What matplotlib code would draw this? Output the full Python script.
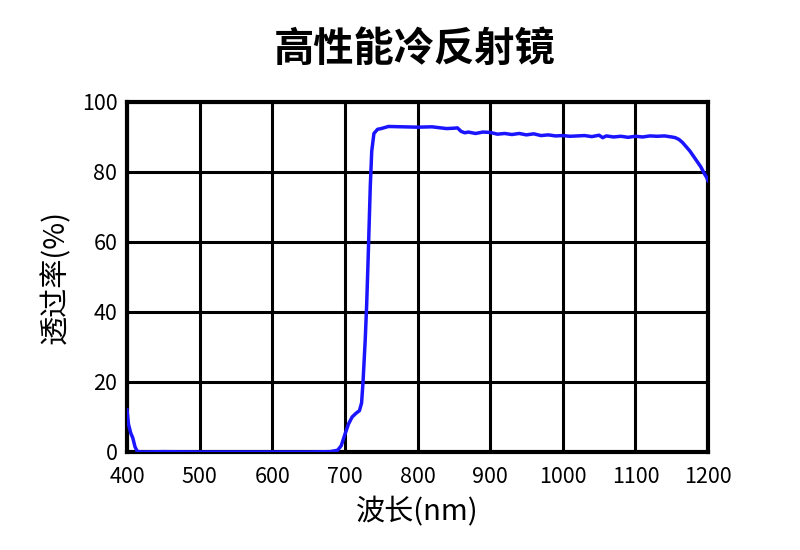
import matplotlib
matplotlib.use("Agg")
import matplotlib.pyplot as plt
import numpy as np

plt.rcParams['font.family'] = ['Noto Sans CJK SC', 'DejaVu Sans']
plt.rcParams['font.weight'] = 'medium'

# 波长 (nm) 和 透过率 (%)
wavelength = [400, 402, 405, 408, 411, 414, 420, 450, 500, 550, 600, 650, 680,
              690, 695, 700, 705, 710, 715, 720, 723, 725, 728, 730, 732, 735,
              737, 740, 745, 750, 760, 780, 800, 820, 840, 850, 855, 860, 865,
              870, 880, 890, 900, 910, 920, 930, 940, 950, 960, 970, 980, 990,
              1000, 1010, 1020, 1030, 1040, 1050, 1055, 1060, 1070, 1080, 1090,
              1100, 1110, 1120, 1130, 1140, 1150, 1155, 1160, 1165, 1170, 1175,
              1180, 1185, 1190, 1195, 1198, 1200]
transmit = [12.0, 8.0, 5.5, 4.0, 1.5, 0.2, 0.0, 0.1, 0.0, 0.0, 0.0, 0.0, 0.1,
            0.5, 1.8, 5.0, 8.0, 10.0, 11.0, 11.8, 14.0, 20.0, 32.0, 42.0, 55.0, 76.0,
            86.0, 91.0, 92.2, 92.4, 93.0, 92.9, 92.8, 92.9, 92.4, 92.5, 92.6, 91.6, 91.2,
            91.4, 91.0, 91.4, 91.3, 90.8, 91.0, 90.7, 91.0, 90.6, 90.9, 90.4, 90.6, 90.3,
            90.4, 90.2, 90.3, 90.4, 90.1, 90.5, 89.8, 90.3, 90.0, 90.2, 89.9,
            90.2, 90.0, 90.3, 90.2, 90.3, 90.0, 89.8, 89.3, 88.4, 87.2, 86.0,
            84.5, 83.0, 81.5, 79.5, 78.5, 77.5]

xticks = np.arange(400, 1201, 100)
yticks = np.arange(0, 101, 20)

fig = plt.figure(figsize=(8, 5.5), dpi=100)
ax = fig.add_axes([0.15875, 0.1782, 0.72625, 0.6364])

ax.plot(wavelength, transmit, color='#1a14ff', lw=2.5, zorder=3)

ax.set_xlim(400, 1200)
ax.set_ylim(0, 100)
ax.set_xticks(xticks)
ax.set_yticks(yticks)
ax.grid(True, color='black', lw=2.2)
for s in ax.spines.values():
    s.set_linewidth(3)
ax.tick_params(length=0, labelsize=15.5)
ax.tick_params(axis='x', pad=10)
ax.tick_params(axis='y', pad=7)

ax.set_xlabel('波长(nm)', fontsize=21, labelpad=7)
ax.set_ylabel('透过率(%)', fontsize=21, labelpad=8)
fig.text(0.518, 0.91, '高性能冷反射镜', fontsize=29, fontweight='bold',
         ha='center', va='center')

fig.savefig('out.png', dpi=100)
